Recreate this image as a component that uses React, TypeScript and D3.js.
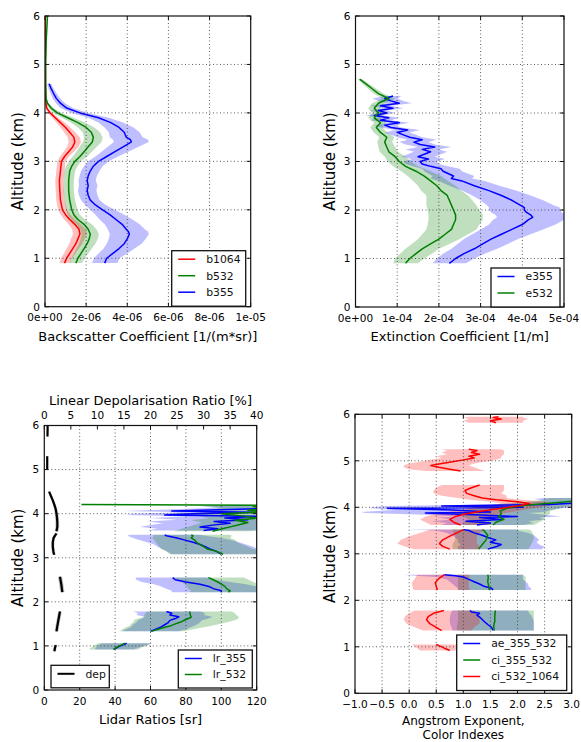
import * as d3 from "d3";

// rows: [altitude km, value, error]  or  [altitude km, value, low, high]; null = gap
type Row = number[] | null;

const FONT = "DejaVu Sans, Verdana, sans-serif";

const altTicks = [0, 1, 2, 3, 4, 5, 6];
const bscTicks = [0, 2, 4, 6, 8, 10];
const bscTickLabels = ["0e+00", "2e-06", "4e-06", "6e-06", "8e-06", "1e-05"];
const extTicks = [0, 1, 2, 3, 4, 5];
const extTickLabels = ["0e+00", "1e-04", "2e-04", "3e-04", "4e-04", "5e-04"];
const lrTicks = [0, 20, 40, 60, 80, 100, 120];
const depTicks = [0, 5, 10, 15, 20, 25, 30, 35, 40];
const aeTicks = [-1, -0.5, 0, 0.5, 1, 1.5, 2, 2.5, 3];
const aeTickLabels = ["\u22121.0", "\u22120.5", "0.0", "0.5", "1.0", "1.5", "2.0", "2.5", "3.0"];

// backscatter, 1e-6 1/(m*sr)
const b1064: Row[] = [
  [0.9, 0.95, 0.25], [1.0, 1.05, 0.27], [1.1, 1.2, 0.28], [1.2, 1.35, 0.3], [1.3, 1.5, 0.32],
  [1.4, 1.6, 0.33], [1.5, 1.7, 0.34], [1.6, 1.65, 0.33], [1.7, 1.45, 0.3], [1.8, 1.2, 0.27],
  [1.9, 1.0, 0.24], [2.0, 0.85, 0.22], [2.2, 0.75, 0.2], [2.4, 0.72, 0.2], [2.6, 0.7, 0.2],
  [2.8, 0.75, 0.2], [3.0, 0.8, 0.2], [3.1, 0.95, 0.22], [3.2, 1.15, 0.25], [3.3, 1.35, 0.28],
  [3.4, 1.45, 0.3], [3.5, 1.4, 0.3], [3.6, 1.2, 0.27], [3.7, 1.0, 0.24], [3.8, 0.75, 0.2],
  [3.9, 0.5, 0.15], [4.0, 0.25, 0.1], [4.1, 0.08, 0.05], [4.3, 0.03, 0.02], [5.0, 0.02, 0.01],
  [6.0, 0.02, 0.01],
];
const b532: Row[] = [
  [0.9, 1.5, 0.3], [1.0, 1.6, 0.32], [1.1, 1.75, 0.35], [1.2, 1.9, 0.38], [1.3, 2.05, 0.4],
  [1.4, 2.15, 0.42], [1.5, 2.2, 0.42], [1.6, 2.1, 0.4], [1.7, 1.9, 0.38], [1.8, 1.6, 0.35],
  [1.9, 1.4, 0.3], [2.0, 1.3, 0.28], [2.2, 1.2, 0.26], [2.4, 1.15, 0.25], [2.6, 1.15, 0.25],
  [2.8, 1.2, 0.26], [2.9, 1.3, 0.28], [3.0, 1.45, 0.3], [3.1, 1.7, 0.35], [3.2, 1.9, 0.38],
  [3.3, 2.1, 0.42], [3.4, 2.3, 0.45], [3.5, 2.35, 0.45], [3.6, 2.25, 0.42], [3.7, 2.0, 0.4],
  [3.8, 1.6, 0.35], [3.9, 1.1, 0.28], [4.0, 0.6, 0.2], [4.1, 0.3, 0.12], [4.2, 0.12, 0.06],
  [4.3, 0.05, 0.03], [4.6, 0.03, 0.02], [5.0, 0.03, 0.01], [5.5, 0.06, 0.01], [6.0, 0.12, 0.01],
];
const b355: Row[] = [
  [0.9, 2.9, 0.62], [1.0, 3.0, 0.62], [1.1, 3.3, 0.7], [1.2, 3.6, 0.75], [1.3, 3.85, 0.85],
  [1.4, 4.0, 0.9], [1.5, 4.1, 0.95], [1.55, 4.05, 0.95], [1.6, 3.95, 0.9], [1.7, 3.75, 0.85],
  [1.8, 3.45, 0.8], [1.9, 3.15, 0.7], [2.0, 2.8, 0.6], [2.1, 2.45, 0.5], [2.2, 2.2, 0.45],
  [2.3, 2.1, 0.45], [2.4, 2.05, 0.45], [2.5, 2.1, 0.45], [2.6, 2.05, 0.42], [2.7, 2.1, 0.42],
  [2.8, 2.2, 0.45], [2.9, 2.35, 0.45], [3.0, 2.6, 0.5], [3.1, 3.0, 0.55], [3.2, 3.4, 0.65],
  [3.3, 3.8, 0.75], [3.4, 4.2, 0.85], [3.45, 4.15, 0.85], [3.5, 3.95, 0.8], [3.6, 3.85, 0.75],
  [3.7, 3.6, 0.7], [3.8, 3.2, 0.6], [3.9, 2.6, 0.5], [4.0, 1.7, 0.4], [4.1, 1.05, 0.3],
  [4.2, 0.75, 0.22], [4.3, 0.55, 0.18], [4.4, 0.42, 0.15], [4.5, 0.3, 0.12], [4.6, 0.2, 0.1],
];

// extinction, 1e-4 1/m
const e355: Row[] = [
  [0.9, 2.25, 0.4], [1.0, 2.4, 0.45], [1.1, 2.6, 0.5], [1.2, 2.85, 0.55], [1.3, 3.05, 0.6],
  [1.4, 3.25, 0.65], [1.5, 3.5, 0.7], [1.6, 3.75, 0.75], [1.7, 4.0, 0.8], [1.8, 4.15, 0.85],
  [1.85, 4.25, 0.85], [1.9, 4.2, 0.85], [1.95, 4.1, 0.85], [2.0, 4.05, 0.85], [2.05, 4.05, 0.85],
  [2.1, 3.95, 0.8], [2.2, 3.75, 0.75], [2.3, 3.5, 0.7], [2.4, 3.2, 0.65], [2.5, 2.85, 0.6],
  [2.6, 2.55, 0.55], [2.65, 2.3, 0.5], [2.7, 2.35, 0.5], [2.8, 2.1, 0.45], [2.85, 2.05, 0.45],
  [2.9, 1.8, 0.42], [2.95, 1.6, 0.4], [3.0, 1.55, 0.4], [3.05, 1.75, 0.4], [3.1, 1.5, 0.4],
  [3.15, 1.65, 0.4], [3.2, 1.8, 0.4], [3.25, 1.6, 0.4], [3.3, 1.9, 0.4], [3.35, 1.55, 0.35],
  [3.4, 1.4, 0.35], [3.45, 1.6, 0.35], [3.5, 1.3, 0.3], [3.55, 1.15, 0.3], [3.6, 1.0, 0.3],
  [3.65, 1.25, 0.3], [3.7, 0.85, 0.25], [3.75, 0.7, 0.25], [3.8, 1.05, 0.25], [3.85, 0.6, 0.25],
  [3.9, 0.8, 0.25], [3.95, 0.45, 0.2], [4.0, 0.75, 0.2], [4.05, 0.55, 0.2], [4.1, 0.9, 0.25],
  [4.15, 0.6, 0.25], [4.2, 1.05, 0.3], [4.25, 0.85, 0.3], [4.3, 0.7, 0.3], [4.35, 0.9, 0.2],
];
const e532: Row[] = [
  [0.9, 1.2, 0.3], [1.0, 1.3, 0.35], [1.1, 1.45, 0.38], [1.2, 1.6, 0.4], [1.3, 1.8, 0.45],
  [1.4, 2.0, 0.5], [1.5, 2.15, 0.55], [1.6, 2.3, 0.6], [1.7, 2.35, 0.62], [1.8, 2.4, 0.65],
  [1.9, 2.4, 0.65], [2.0, 2.35, 0.62], [2.1, 2.3, 0.6], [2.2, 2.25, 0.55], [2.3, 2.2, 0.5],
  [2.4, 2.05, 0.48], [2.5, 1.95, 0.45], [2.6, 1.8, 0.42], [2.7, 1.65, 0.4], [2.8, 1.45, 0.35],
  [2.9, 1.2, 0.3], [3.0, 1.05, 0.28], [3.1, 0.95, 0.25], [3.2, 0.8, 0.22], [3.3, 0.75, 0.2],
  [3.4, 0.7, 0.18], [3.5, 0.75, 0.18], [3.6, 0.6, 0.16], [3.7, 0.5, 0.15], [3.8, 0.6, 0.15],
  [3.9, 0.45, 0.15], [4.0, 0.55, 0.15], [4.1, 0.45, 0.15], [4.2, 0.55, 0.15], [4.3, 0.8, 0.15],
  [4.4, 0.55, 0.12], [4.5, 0.4, 0.1], [4.6, 0.25, 0.08], [4.7, 0.1, 0.05],
];

// lidar ratios, sr
const lr355: Row[] = [
  [0.92, 39.5, 11], [0.96, 41, 12], [1.0, 43, 13], [1.03, 45, 14], [1.06, 46.5, 14], null,
  [1.33, 60, 16], [1.38, 63, 17], [1.43, 66, 17], [1.48, 68, 18], [1.53, 70, 18], [1.58, 71, 18],
  [1.62, 74, 19], [1.66, 76, 19], [1.7, 71, 19], [1.74, 72, 19], [1.78, 69, 19], null,
  [2.22, 100, 28], [2.25, 100, 28], [2.3, 95.5, 27], [2.35, 93, 27], [2.4, 88, 26], [2.45, 80, 25],
  [2.5, 74, 22], [2.55, 72.5, 21], null,
  [3.08, 100, 28], [3.15, 97, 28], [3.2, 93.6, 27], [3.25, 91, 27], [3.3, 88, 26], [3.35, 84, 26],
  [3.4, 79.5, 26], [3.45, 75, 25], [3.5, 69, 22], [3.52, 68, 20], null,
  [3.62, 90, 32], [3.66, 98, 34], [3.7, 88, 34], [3.74, 95, 36], [3.78, 105, 38], [3.82, 96, 38],
  [3.86, 115, 40], [3.9, 102, 42], [3.94, 122, 42], [3.97, 68, 22], [4.0, 84, 34], [4.03, 118, 40],
  [4.06, 72, 28], [4.1, 110, 36], [4.14, 140, 40], [4.18, 125, 40], [4.2, 150, 40],
];
const lr532: Row[] = [
  [0.92, 39, 14], [0.96, 40.5, 14], [1.0, 42.5, 15], [1.03, 44, 15], [1.06, 45.5, 15], null,
  [1.33, 60.5, 18], [1.4, 66, 21], [1.45, 71, 23], [1.5, 74, 25], [1.55, 77.5, 27], [1.6, 80, 29],
  [1.65, 83, 27], [1.7, 82.5, 26], [1.75, 82.3, 25], [1.78, 82, 24], null,
  [2.22, 104, 22], [2.25, 105, 22], [2.3, 103, 22], [2.35, 102, 21], [2.4, 100, 21], [2.45, 98, 20],
  [2.5, 95.5, 20], [2.55, 92.7, 20], null,
  [3.08, 101, 30], [3.15, 97, 28], [3.2, 92, 26], [3.25, 90, 25], [3.3, 88, 24], [3.35, 86, 23],
  [3.4, 85, 23], [3.45, 83, 22], [3.5, 84, 22], [3.52, 83, 22], null,
  [3.6, 95, 22], [3.65, 100, 23], [3.7, 105, 24], [3.75, 110, 25], [3.8, 115, 26], [3.85, 108, 25],
  [3.9, 120, 27], [3.95, 112, 26], [4.0, 100, 25], [4.04, 125, 28], [4.08, 115, 26], [4.12, 130, 30],
  [4.16, 118, 28], [4.19, 140, 30], [4.21, 21, 7],
];
// linear depolarisation ratio, %
const dep: Row[] = [
  [0.88, 1.9, 0.3], [0.95, 2.0, 0.3], [1.02, 2.15, 0.3], null,
  [1.33, 2.3, 0.35], [1.45, 2.45, 0.35], [1.55, 2.6, 0.35], [1.65, 2.75, 0.35], [1.78, 2.95, 0.35], null,
  [2.22, 3.4, 0.4], [2.3, 3.3, 0.4], [2.4, 3.2, 0.4], [2.5, 3.05, 0.4], [2.57, 2.95, 0.4], null,
  [3.07, 1.85, 0.3], [3.15, 1.7, 0.3], [3.25, 1.6, 0.3], [3.35, 1.6, 0.3], [3.45, 1.75, 0.3],
  [3.52, 2.1, 0.3], [3.55, 2.3, 0.3], null,
  [3.6, 2.3, 0.35], [3.7, 2.45, 0.35], [3.8, 2.45, 0.35], [3.9, 2.4, 0.35], [4.0, 2.3, 0.35],
  [4.1, 2.15, 0.3], [4.2, 1.9, 0.3], [4.3, 1.6, 0.25], [4.4, 1.25, 0.2], [4.5, 0.9, 0.15], null,
  [5.0, 0.55, 0.1], [5.15, 0.55, 0.1], [5.3, 0.55, 0.1], null,
  [5.75, 0.6, 0.1], [5.9, 0.62, 0.1], [6.0, 0.62, 0.1],
];

// angstrom exponent / color indexes: [altitude, value, low, high]
const ae355532: Row[] = [
  [1.35, 1.55, 0.8, 2.3], [1.42, 1.52, 0.78, 2.3], [1.48, 1.45, 0.76, 2.3], [1.55, 1.38, 0.75, 2.3],
  [1.62, 1.32, 0.75, 2.28], [1.68, 1.25, 0.76, 2.25], [1.72, 1.3, 0.77, 2.22], [1.75, 1.15, 0.78, 2.2],
  [1.78, 1.12, 0.8, 2.2], null,
  [2.22, 1.55, 0.9, 2.25], [2.26, 1.52, 0.9, 2.25], [2.3, 1.38, 0.85, 2.2], [2.35, 1.3, 0.8, 2.2],
  [2.4, 1.2, 0.75, 2.15], [2.45, 1.1, 0.7, 2.1], [2.5, 1.0, 0.5, 2.1], [2.53, 0.85, 0.1, 2.1],
  [2.55, 0.65, -0.1, 2.1], null,
  [3.1, 1.45, 0.9, 2.45], [3.15, 1.6, 0.9, 2.5], [3.2, 1.7, 0.95, 2.4], [3.25, 1.5, 0.9, 2.35],
  [3.3, 1.6, 0.9, 2.4], [3.35, 1.45, 0.85, 2.35], [3.4, 1.35, 0.8, 2.3], [3.45, 1.2, 0.7, 2.2],
  [3.5, 1.1, 0.5, 2.0], [3.52, 1.0, -0.1, 2.0], null,
  [3.62, 1.25, 0.6, 2.1], [3.66, 1.5, 0.7, 2.3], [3.7, 1.05, 0.4, 2.2], [3.74, 1.7, 0.8, 2.5],
  [3.78, 1.3, 0.5, 2.4], [3.8, 2.0, 0.9, 2.8], [3.84, 1.2, 0.3, 2.5], [3.88, 0.3, -0.8, 2.2],
  [3.9, 1.5, -0.9, 2.5], [3.94, 0.8, -0.3, 2.6], [3.98, -0.4, -0.7, 2.8], [4.0, 2.1, -0.7, 3.0],
  [4.03, 0.6, -0.4, 3.0], [4.06, 2.6, 1.5, 3.3], [4.1, 3.2, 2.2, 3.6], [4.14, 3.4, 2.5, 3.8],
  [4.18, 3.1, 2.3, 3.6], [4.2, 3.3, 2.5, 3.8],
];
const ci355532: Row[] = [
  [1.35, 1.57, 0.88, 2.3], [1.45, 1.56, 0.88, 2.3], [1.55, 1.58, 0.9, 2.3], [1.65, 1.58, 0.9, 2.3],
  [1.78, 1.59, 0.9, 2.3], null,
  [2.22, 1.48, 0.9, 2.15], [2.3, 1.47, 0.9, 2.15], [2.4, 1.45, 0.9, 2.15], [2.5, 1.46, 0.9, 2.15],
  [2.55, 1.45, 0.9, 2.1], null,
  [3.1, 1.28, 0.8, 2.2], [3.2, 1.35, 0.8, 2.25], [3.3, 1.42, 0.85, 2.3], [3.4, 1.45, 0.85, 2.3],
  [3.5, 1.38, 0.8, 2.25], [3.52, 1.35, 0.8, 2.2], null,
  [3.62, 1.55, 1.0, 2.3], [3.68, 1.6, 1.0, 2.4], [3.74, 1.75, 1.1, 2.5], [3.8, 1.65, 1.0, 2.5],
  [3.86, 1.7, 1.0, 2.6], [3.92, 1.68, 1.0, 2.6], [3.98, 1.8, 1.1, 2.8], [4.04, 2.1, 1.4, 3.0],
  [4.1, 2.7, 2.0, 3.4], [4.15, 3.2, 2.4, 3.8], [4.2, 3.4, 2.6, 4.0],
];
const ci5321064: Row[] = [
  [0.92, 0.75, 0.2, 1.2], [0.97, 0.65, 0.15, 1.15], [1.01, 0.58, 0.1, 1.1], [1.05, 0.5, 0.05, 1.05], null,
  [1.35, 0.6, 0.25, 1.15], [1.42, 0.5, 0.1, 1.2], [1.5, 0.38, -0.05, 1.3], [1.58, 0.32, -0.1, 1.3],
  [1.65, 0.35, -0.08, 1.3], [1.72, 0.45, 0.0, 1.25], [1.78, 0.64, 0.1, 1.2], null,
  [2.22, 0.52, 0.08, 1.12], [2.3, 0.5, 0.06, 1.1], [2.38, 0.48, 0.05, 1.1], [2.46, 0.54, 0.1, 1.1],
  [2.55, 0.65, 0.15, 1.12], null,
  [3.1, 0.75, 0.1, 1.3], [3.16, 0.62, -0.1, 1.3], [3.22, 0.56, -0.22, 1.25], [3.3, 0.62, -0.15, 1.25],
  [3.38, 0.75, 0.0, 1.25], [3.45, 0.88, 0.2, 1.3], [3.52, 1.0, 0.4, 1.4], null,
  [3.62, 0.95, 0.4, 1.5], [3.68, 0.82, 0.3, 1.4], [3.74, 0.75, 0.2, 1.4], [3.8, 0.85, 0.3, 1.5],
  [3.86, 1.05, 0.5, 1.7], [3.92, 1.35, 0.8, 2.0], [3.98, 1.7, 1.1, 2.3], [4.04, 2.05, 1.5, 2.6],
  [4.08, 2.22, 1.7, 2.7], [4.12, 2.0, 1.5, 2.5], [4.16, 1.6, 1.1, 2.1], [4.2, 1.35, 0.9, 1.8],
  [4.25, 1.2, 0.6, 1.8], [4.3, 1.06, 0.45, 1.7], [4.36, 1.03, 0.45, 1.75], [4.42, 1.15, 0.5, 1.75],
  [4.48, 1.3, 0.6, 1.75], null,
  [4.78, 0.95, 0.3, 1.4], [4.82, 0.75, 0.0, 1.3], [4.86, 0.55, -0.1, 1.2], [4.9, 0.4, -0.1, 1.1],
  [4.94, 0.6, 0.0, 1.2], [4.98, 0.8, 0.2, 1.4], [5.02, 1.0, 0.4, 1.6], [5.06, 1.2, 0.6, 1.7],
  [5.1, 1.1, 0.5, 1.7], [5.14, 1.3, 0.7, 1.75], [5.18, 1.15, 0.6, 1.75], [5.22, 1.25, 0.7, 1.75],
  [5.25, 1.1, 0.6, 1.7], null,
  [5.82, 1.6, 1.1, 2.1], [5.86, 1.5, 1.0, 2.1], [5.9, 1.7, 1.1, 2.2], [5.93, 1.55, 1.0, 2.1],
  [5.95, 1.65, 1.1, 2.1],
];

const RED = "#ff0000";
const GREEN = "#008000";
const BLUE = "#0000ff";

type Box = { left: number; right: number; top: number; bottom: number };
type Scale = d3.ScaleLinear<number, number>;
type Series = { name: string; data: Row[]; color: string; x?: Scale; width?: number };

const bandOf = (d: number[]) => (d.length > 3 ? [d[2], d[3]] : [d[1] - d[2], d[1] + d[2]]);

function Profiles({ id, box, series, x, y }: { id: string; box: Box; series: Series[]; x: Scale; y: Scale }) {
  return (
    <g>
      <clipPath id={id}>
        <rect x={box.left} y={box.top} width={box.right - box.left} height={box.bottom - box.top} />
      </clipPath>
      <g clipPath={`url(#${id})`}>
        {series.map((s) => {
          const sx = s.x ?? x;
          const area = d3
            .area<Row>()
            .defined((d) => d !== null)
            .y((d) => y(d![0]))
            .x0((d) => sx(bandOf(d!)[0]))
            .x1((d) => sx(bandOf(d!)[1]));
          return <path key={s.name + "-band"} d={area(s.data) ?? ""} fill={s.color} fillOpacity={0.25} />;
        })}
        {series.map((s) => {
          const sx = s.x ?? x;
          const line = d3
            .line<Row>()
            .defined((d) => d !== null)
            .x((d) => sx(d![1]))
            .y((d) => y(d![0]));
          return (
            <path key={s.name} d={line(s.data) ?? ""} fill="none" stroke={s.color}
              strokeWidth={s.width ?? 1.5} strokeLinejoin="round" />
          );
        })}
      </g>
    </g>
  );
}

function Frame({ box, x, y, xTicks, xLabels, yLabelX, xTitle, top }: {
  box: Box; x: Scale; y: Scale; xTicks: number[]; xLabels: string[]; yLabelX: number;
  xTitle: string[]; top?: { scale: Scale; ticks: number[]; title: string };
}) {
  const midY = (box.top + box.bottom) / 2;
  const midX = (box.left + box.right) / 2;
  const twoLines = xTitle.length > 1;
  return (
    <g fontFamily={FONT} fill="#000">
      {xTicks.slice(1, -1).map((t) => (
        <line key={"gx" + t} x1={x(t)} x2={x(t)} y1={box.top} y2={box.bottom}
          stroke="#333" strokeWidth={0.8} strokeDasharray="1,2.5" />
      ))}
      {altTicks.slice(1, -1).map((t) => (
        <line key={"gy" + t} x1={box.left} x2={box.right} y1={y(t)} y2={y(t)}
          stroke="#333" strokeWidth={0.8} strokeDasharray="1,2.5" />
      ))}
      <rect x={box.left} y={box.top} width={box.right - box.left} height={box.bottom - box.top}
        fill="none" stroke="#111" strokeWidth={1.2} />
      {xTicks.map((t) => (
        <line key={"tb" + t} x1={x(t)} x2={x(t)} y1={box.bottom} y2={box.bottom - 4} stroke="#111" />
      ))}
      {(top ? top.ticks.map((t) => top.scale(t)) : xTicks.map((t) => x(t))).map((px, i) => (
        <line key={"tt" + i} x1={px} x2={px} y1={box.top} y2={box.top + 4} stroke="#111" />
      ))}
      {altTicks.map((t) => (
        <g key={"ty" + t}>
          <line x1={box.left} x2={box.left + 4} y1={y(t)} y2={y(t)} stroke="#111" />
          <line x1={box.right} x2={box.right - 4} y1={y(t)} y2={y(t)} stroke="#111" />
          <text x={box.left - 5} y={y(t) + 3.8} fontSize={10.5} textAnchor="end">{t}</text>
        </g>
      ))}
      {xTicks.map((t, i) => (
        <text key={"lx" + t} x={x(t)} y={box.bottom + 14.5} fontSize={10.5} textAnchor="middle">
          {xLabels[i]}
        </text>
      ))}
      {xTitle.map((s, i) => (
        <text key={"xt" + i} x={midX} y={box.bottom + (twoLines ? 31.2 + i * 14 : 34)}
          fontSize={twoLines ? 12 : 13} textAnchor="middle">{s}</text>
      ))}
      <text transform={`translate(${yLabelX},${midY}) rotate(-90)`} fontSize={15} textAnchor="middle">
        Altitude (km)
      </text>
      {top && (
        <g>
          {top.ticks.map((t) => (
            <text key={"lt" + t} x={top.scale(t)} y={box.top - 7} fontSize={10.5} textAnchor="middle">{t}</text>
          ))}
          <text x={midX} y={box.top - 21} fontSize={13} textAnchor="middle">{top.title}</text>
        </g>
      )}
    </g>
  );
}

function Legend({ x, y, w, entries, step = 16.5 }: {
  x: number; y: number; w: number; entries: { name: string; color: string; width?: number }[]; step?: number;
}) {
  const h = entries.length * step + 6;
  return (
    <g fontFamily={FONT}>
      <rect x={x} y={y} width={w} height={h} fill="#fff" stroke="#111" strokeWidth={1.3} />
      {entries.map((e, i) => {
        const cy = y + 8.5 + i * step;
        return (
          <g key={e.name}>
            <line x1={x + 6.5} x2={x + 23.5} y1={cy} y2={cy} stroke={e.color} strokeWidth={e.width ?? 1.5} />
            <text x={x + 34.5} y={cy + 3.8} fontSize={10.8} fill="#111">{e.name}</text>
          </g>
        );
      })}
    </g>
  );
}

export default function App() {
  const W = 581;
  const H = 742;

  const box1: Box = { left: 45, right: 250.7, top: 16, bottom: 306.7 };
  const x1 = d3.scaleLinear().domain([0, 10]).range([box1.left, box1.right]);
  const y1 = d3.scaleLinear().domain([0, 6]).range([box1.bottom, box1.top]);

  const box2: Box = { left: 355.5, right: 564, top: 16, bottom: 307 };
  const x2 = d3.scaleLinear().domain([0, 5]).range([box2.left, box2.right]);
  const y2 = d3.scaleLinear().domain([0, 6]).range([box2.bottom, box2.top]);

  const box3: Box = { left: 44.3, right: 256.7, top: 425.5, bottom: 690 };
  const x3 = d3.scaleLinear().domain([0, 120]).range([box3.left, box3.right]);
  const x3dep = d3.scaleLinear().domain([0, 40]).range([box3.left, box3.right]);
  const y3 = d3.scaleLinear().domain([0, 6]).range([box3.bottom, box3.top]);

  const box4: Box = { left: 355, right: 571.7, top: 414.3, bottom: 693.3 };
  const x4 = d3.scaleLinear().domain([-1, 3]).range([box4.left, box4.right]);
  const y4 = d3.scaleLinear().domain([0, 6]).range([box4.bottom, box4.top]);

  return (
    <svg width={W} height={H} viewBox={`0 0 ${W} ${H}`}
      style={{ position: "absolute", left: 0, top: 0, display: "block", background: "#fff" }}>
      <rect width={W} height={H} fill="#fff" />

      {/* backscatter */}
      <Profiles id="c1" box={box1} x={x1} y={y1} series={[
        { name: "b1064", data: b1064, color: RED },
        { name: "b532", data: b532, color: GREEN },
        { name: "b355", data: b355, color: BLUE },
      ]} />
      <Frame box={box1} x={x1} y={y1} xTicks={bscTicks} xLabels={bscTickLabels} yLabelX={22.5}
        xTitle={["Backscatter Coefficient [1/(m*sr)]"]} />
      <Legend x={171.7} y={250.7} w={74} entries={[
        { name: "b1064", color: RED }, { name: "b532", color: GREEN }, { name: "b355", color: BLUE },
      ]} />

      {/* extinction */}
      <Profiles id="c2" box={box2} x={x2} y={y2} series={[
        { name: "e355", data: e355, color: BLUE },
        { name: "e532", data: e532, color: GREEN },
      ]} />
      <Frame box={box2} x={x2} y={y2} xTicks={extTicks} xLabels={extTickLabels} yLabelX={334.5}
        xTitle={["Extinction Coefficient [1/m]"]} />
      <Legend x={491} y={268} w={69} entries={[
        { name: "e355", color: BLUE }, { name: "e532", color: GREEN },
      ]} />

      {/* lidar ratios + depolarisation */}
      <Profiles id="c3" box={box3} x={x3} y={y3} series={[
        { name: "lr_355", data: lr355, color: BLUE },
        { name: "lr_532", data: lr532, color: GREEN },
        { name: "dep", data: dep, color: "#000", x: x3dep, width: 2.2 },
      ]} />
      <Frame box={box3} x={x3} y={y3} xTicks={lrTicks} xLabels={lrTicks.map(String)} yLabelX={22.5}
        xTitle={["Lidar Ratios [sr]"]}
        top={{ scale: x3dep, ticks: depTicks, title: "Linear Depolarisation Ratio [%]" }} />
      <Legend x={178.3} y={650} w={74} step={16} entries={[
        { name: "lr_355", color: BLUE }, { name: "lr_532", color: GREEN },
      ]} />
      <Legend x={51} y={665.3} w={58.3} entries={[{ name: "dep", color: "#000", width: 2 }]} />

      {/* angstrom exponent / color indexes */}
      <Profiles id="c4" box={box4} x={x4} y={y4} series={[
        { name: "ae_355_532", data: ae355532, color: BLUE },
        { name: "ci_355_532", data: ci355532, color: GREEN },
        { name: "ci_532_1064", data: ci5321064, color: RED },
      ]} />
      <Frame box={box4} x={x4} y={y4} xTicks={aeTicks} xLabels={aeTickLabels} yLabelX={334.5}
        xTitle={["Angstrom Exponent,", "Color Indexes"]} />
      <Legend x={456.7} y={635} w={110} entries={[
        { name: "ae_355_532", color: BLUE }, { name: "ci_355_532", color: GREEN },
        { name: "ci_532_1064", color: RED },
      ]} />
    </svg>
  );
}
